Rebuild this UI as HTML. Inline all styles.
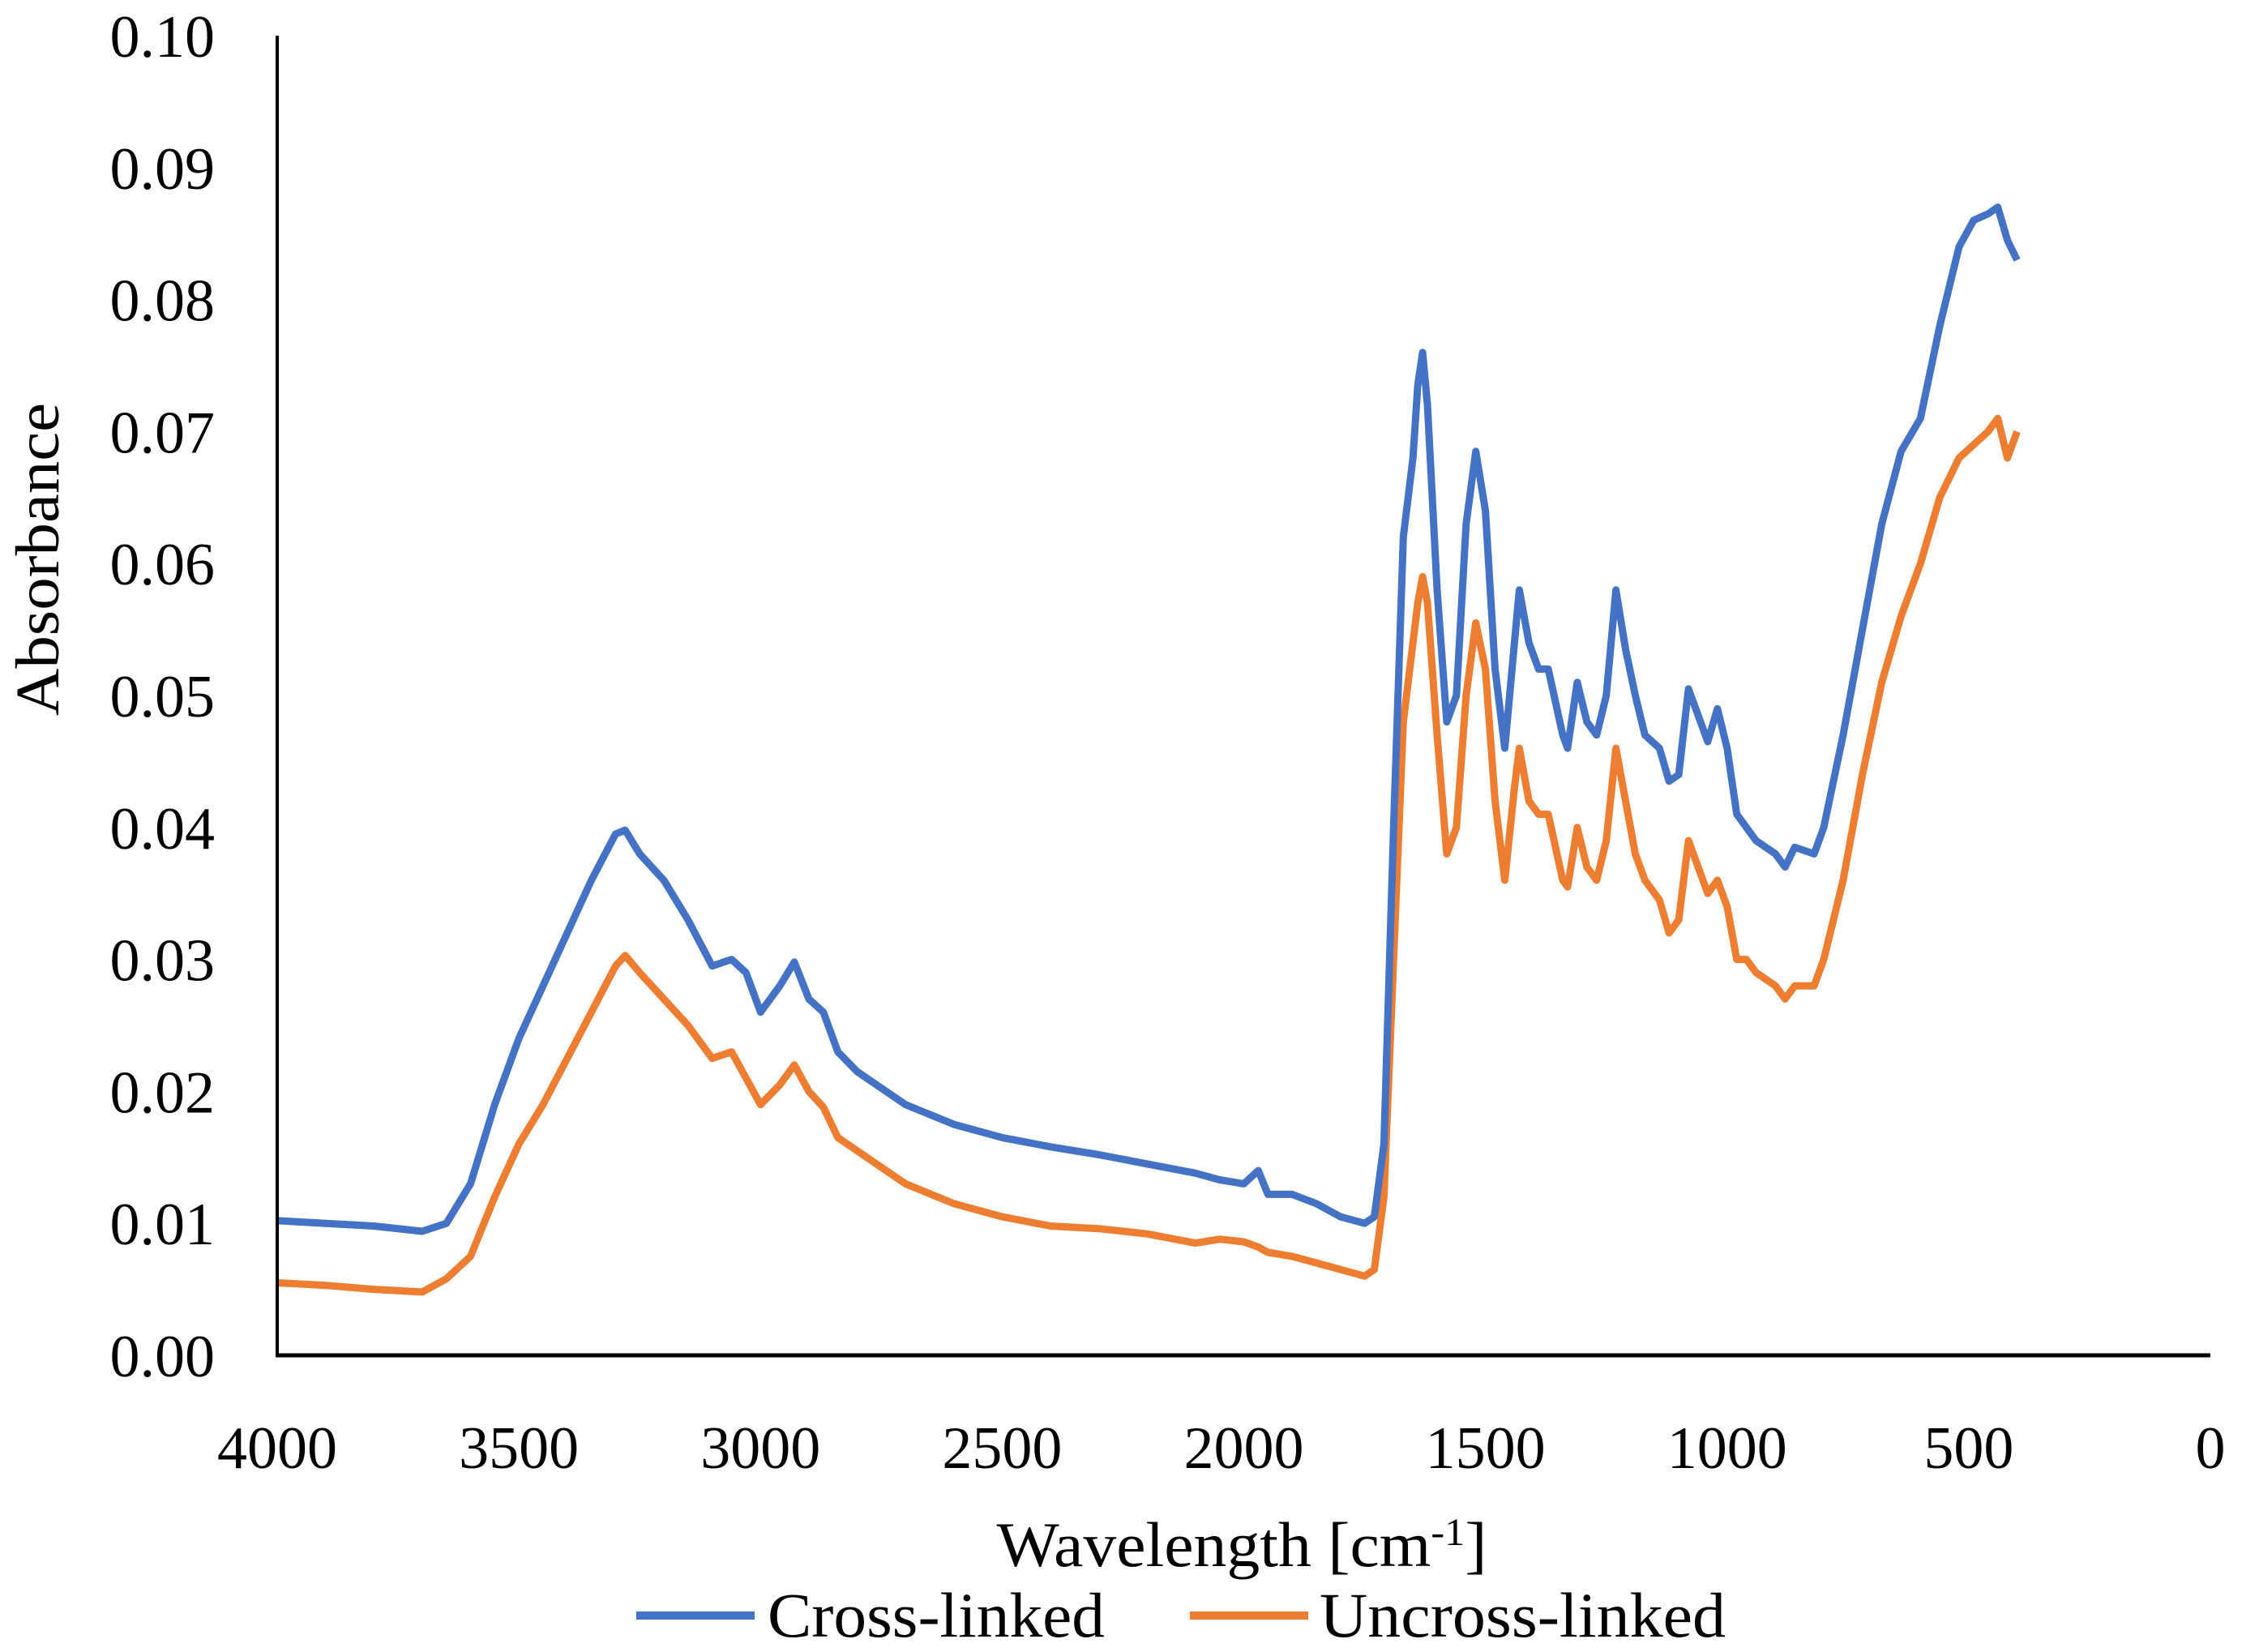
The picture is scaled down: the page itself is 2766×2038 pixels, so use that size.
<!DOCTYPE html>
<html><head><meta charset="utf-8"><style>
html,body{margin:0;padding:0;background:#fff;}
svg{display:block;font-family:"Liberation Serif",serif;}
</style></head><body>
<svg id="chart" width="2766" height="2038" viewBox="0 0 2766 2038">
<g id="yt"></g>
<g id="xt"></g>
<g id="series"></g>
<line x1="342" y1="44" x2="342" y2="1672" stroke="#000" stroke-width="4"/>
<line x1="340" y1="1672" x2="2727" y2="1672" stroke="#000" stroke-width="5"/>
<text x="0" y="0" transform="translate(72,690) rotate(-90)" text-anchor="middle" font-size="76" textLength="386" lengthAdjust="spacingAndGlyphs">Absorbance</text>
<text x="1532" y="1932" text-anchor="middle" font-size="78" textLength="605" lengthAdjust="spacingAndGlyphs">Wavelength [cm<tspan baseline-shift="super" font-size="48">-1</tspan>]</text>
<g>
<line x1="785" y1="1993" x2="931" y2="1993" stroke="#4472C4" stroke-width="10"/>
<text x="947" y="2019" font-size="78" textLength="416" lengthAdjust="spacingAndGlyphs">Cross-linked</text></g>
<g>
<line x1="1468" y1="1993" x2="1614" y2="1993" stroke="#ED7D31" stroke-width="10"/>
<text x="1628" y="2019" font-size="78" textLength="501" lengthAdjust="spacingAndGlyphs">Uncross-linked</text></g>
</svg>
<script>
const yTicks=[0,0.01,0.02,0.03,0.04,0.05,0.06,0.07,0.08,0.09,0.10];
const xTicks=[4000,3500,3000,2500,2000,1500,1000,500,0];
const wn=[4000,3900,3800,3700,3650,3600,3550,3500,3450,3400,3350,3300,3280,3250,3200,3150,3100,3060,3030,3000,2960,2930,2900,2870,2840,2800,2700,2600,2500,2400,2300,2200,2100,2050,2000,1970,1950,1900,1850,1800,1750,1730,1710,1690,1670,1650,1640,1630,1620,1600,1580,1560,1540,1520,1500,1480,1460,1440,1430,1410,1390,1370,1340,1330,1310,1290,1270,1250,1230,1210,1190,1170,1140,1120,1100,1080,1060,1040,1020,1000,980,960,940,900,880,860,820,800,760,720,680,640,600,560,520,490,460,440,420,400];
const crossLinked=[0.0102,0.0100,0.0098,0.0094,0.0100,0.013,0.019,0.024,0.028,0.032,0.036,0.0395,0.0398,0.038,0.036,0.033,0.0295,0.030,0.029,0.026,0.028,0.0298,0.027,0.026,0.023,0.0215,0.019,0.0175,0.0165,0.0158,0.0152,0.0145,0.0138,0.0133,0.013,0.014,0.0122,0.0122,0.0115,0.0105,0.010,0.0105,0.016,0.04,0.062,0.068,0.0735,0.076,0.072,0.058,0.048,0.050,0.063,0.0685,0.064,0.052,0.046,0.054,0.058,0.054,0.052,0.052,0.047,0.046,0.051,0.048,0.047,0.050,0.058,0.0535,0.05,0.047,0.046,0.0435,0.044,0.0505,0.0485,0.0465,0.049,0.046,0.041,0.040,0.039,0.038,0.037,0.0385,0.038,0.040,0.047,0.055,0.063,0.0685,0.071,0.078,0.084,0.086,0.0865,0.087,0.0845,0.083];
const uncrossLinked=[0.0055,0.0053,0.0050,0.0048,0.0058,0.0075,0.012,0.016,0.019,0.0225,0.026,0.0295,0.0303,0.029,0.027,0.025,0.0225,0.023,0.021,0.019,0.0205,0.0220,0.020,0.0188,0.0165,0.0155,0.013,0.0115,0.0105,0.0098,0.0096,0.0092,0.0085,0.0088,0.0086,0.0082,0.0078,0.0075,0.0070,0.0065,0.006,0.0065,0.012,0.03,0.048,0.054,0.057,0.059,0.057,0.047,0.038,0.040,0.050,0.0555,0.052,0.042,0.036,0.043,0.046,0.042,0.041,0.041,0.036,0.0355,0.040,0.037,0.036,0.039,0.046,0.042,0.038,0.036,0.0345,0.032,0.033,0.039,0.037,0.035,0.036,0.034,0.030,0.030,0.029,0.028,0.027,0.028,0.028,0.030,0.036,0.044,0.051,0.056,0.060,0.065,0.068,0.069,0.070,0.071,0.068,0.070];

const X=v=>342+(4000-v)/4000*(2727-342);
const Y=v=>1672-v/0.1*(1672-44);
const NS="http://www.w3.org/2000/svg";
const yt=document.getElementById('yt'),xt=document.getElementById('xt'),sg=document.getElementById('series');
yTicks.forEach(t=>{
  const e=document.createElementNS(NS,'text');
  
  
  e.setAttribute('x',265);e.setAttribute('y',Y(t)+26);
  e.setAttribute('text-anchor','end');e.setAttribute('font-size','74');
  e.textContent=t.toFixed(2);yt.appendChild(e);
});
xTicks.forEach(t=>{
  const e=document.createElementNS(NS,'text');
  
  
  e.setAttribute('x',X(t));e.setAttribute('y',1811);
  e.setAttribute('text-anchor','middle');e.setAttribute('font-size','74');
  e.textContent=String(t);xt.appendChild(e);
});
function line(vals,color,name){
  const p=document.createElementNS(NS,'path');
  
  
  p.setAttribute('d',vals.map((v,i)=>(i?'L':'M')+X(wn[i]).toFixed(1)+' '+Y(v).toFixed(1)).join(' '));
  p.setAttribute('fill','none');p.setAttribute('stroke',color);
  p.setAttribute('stroke-width','9');p.setAttribute('stroke-linejoin','round');
  sg.appendChild(p);
}
line(uncrossLinked,'#ED7D31','uncross-linked-line');
line(crossLinked,'#4472C4','cross-linked-line');
</script>
</body></html>
